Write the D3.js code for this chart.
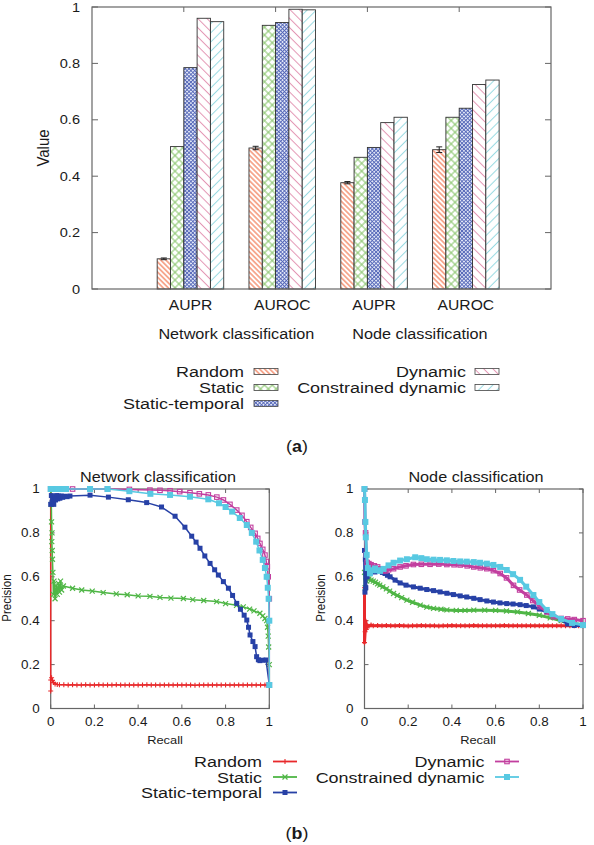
<!DOCTYPE html>
<html><head><meta charset="utf-8">
<script src="https://cdn.jsdelivr.net/npm/d3@7"></script>
<style>
body{margin:0;background:#fff}
svg{display:block}
text{font-family:"Liberation Sans",Arial,Helvetica,sans-serif;fill:#1a1a1a}
</style>
</head><body>
<svg id="c" width="594" height="845"></svg>
<script>
// ---------------- DATA ----------------
const barCategories = ["AUPR", "AUROC", "AUPR", "AUROC"];
const groupLabels = ["Network classification", "Node classification"];
const methods = ["Random", "Static", "Static-temporal", "Dynamic", "Constrained dynamic"];
const randomVals = [0.107, 0.500, 0.377, 0.494];
const randomErr = [0.003, 0.006, 0.004, 0.010];
const staticVals = [0.505, 0.935, 0.467, 0.609];
const staticTemporalVals = [0.785, 0.945, 0.502, 0.641];
const dynamicVals = [0.960, 0.992, 0.590, 0.725];
const constrainedVals = [0.948, 0.990, 0.609, 0.741];
const valueTicks = [0, 0.2, 0.4, 0.6, 0.8, 1];
const prTicks = [0, 0.2, 0.4, 0.6, 0.8, 1];
const prTitles = ["Network classification", "Node classification"];
const panelTags = ["a", "b"];

// PR curves: [recall, precision]
const netRandom = [[0,1],[0,0.08],[0,0.13],[0.004,0.14],[0.008,0.128],[0.013,0.118],[0.02,0.112],[0.03,0.109],[0.04,0.108],
 [0.06,0.108],[0.08,0.107],[0.10,0.108],[0.12,0.107],[0.14,0.107],[0.16,0.108],[0.18,0.107],[0.20,0.107],[0.22,0.108],[0.24,0.107],
 [0.26,0.107],[0.28,0.107],[0.30,0.108],[0.32,0.107],[0.34,0.107],[0.36,0.107],[0.38,0.107],[0.40,0.107],[0.42,0.107],[0.44,0.108],
 [0.46,0.107],[0.48,0.107],[0.50,0.107],[0.52,0.107],[0.54,0.107],[0.56,0.107],[0.58,0.107],[0.60,0.107],[0.62,0.107],[0.64,0.107],
 [0.66,0.106],[0.68,0.107],[0.70,0.107],[0.72,0.107],[0.74,0.107],[0.76,0.107],[0.78,0.107],[0.80,0.107],[0.82,0.107],[0.84,0.107],
 [0.86,0.107],[0.88,0.107],[0.90,0.107],[0.92,0.107],[0.94,0.107],[0.96,0.107],[0.98,0.107],[1,0.107]];
const netStatic = [[0,1],[0.003,0.93],[0.004,0.85],[0.006,0.8],[0.005,0.76],[0.007,0.72],[0.008,0.68],[0.01,0.62],[0.012,0.52],
 [0.015,0.58],[0.02,0.5],[0.025,0.56],[0.03,0.52],[0.035,0.57],[0.04,0.53],[0.045,0.58],[0.05,0.54],[0.058,0.558],[0.1,0.548],
 [0.142,0.54],[0.19,0.535],[0.24,0.528],[0.3,0.522],[0.35,0.518],[0.4,0.513],[0.454,0.511],[0.5,0.506],[0.55,0.503],[0.607,0.501],
 [0.65,0.496],[0.7,0.492],[0.759,0.487],[0.8,0.478],[0.85,0.47],[0.881,0.463],[0.91,0.453],[0.93,0.445],[0.957,0.434],[0.97,0.422],
 [0.98,0.41],[0.988,0.4],[0.992,0.37],[0.995,0.33],[0.997,0.28],[1,0.2],[1,0.107]];
const netStaticTemporal = [[0,0.93],[0.003,0.97],[0.006,0.94],[0.01,0.96],[0.014,0.93],[0.018,0.965],[0.022,0.95],[0.027,0.97],
 [0.032,0.955],[0.037,0.968],[0.042,0.958],[0.048,0.968],[0.055,0.962],[0.065,0.967],[0.075,0.965],[0.088,0.968],[0.18,0.972],
 [0.264,0.963],[0.355,0.951],[0.439,0.938],[0.507,0.918],[0.569,0.876],[0.614,0.826],[0.645,0.785],[0.665,0.758],[0.683,0.73],
 [0.705,0.695],[0.729,0.661],[0.75,0.632],[0.767,0.608],[0.79,0.578],[0.813,0.548],[0.832,0.515],[0.851,0.479],[0.868,0.452],
 [0.885,0.425],[0.897,0.403],[0.905,0.37],[0.912,0.335],[0.925,0.305],[0.935,0.282],[0.942,0.236],[0.95,0.222],[0.957,0.218],
 [0.97,0.22],[0.985,0.221],[1,0.107]];
const netDynamic = [[0,1],[0.05,1],[0.1,1],[0.18,1],[0.26,1],[0.36,0.998],[0.454,0.995],[0.5,0.994],[0.546,0.992],[0.59,0.988],
 [0.637,0.983],[0.68,0.978],[0.721,0.973],[0.76,0.963],[0.79,0.95],[0.82,0.93],[0.851,0.904],[0.875,0.88],[0.897,0.851],
 [0.915,0.825],[0.935,0.798],[0.947,0.775],[0.957,0.752],[0.97,0.725],[0.98,0.699],[0.986,0.67],[0.991,0.646],[0.995,0.6],
 [1,0.5],[1,0.107]];
const netConstrained = [[0,1],[0.005,1],[0.01,1],[0.015,1],[0.02,1],[0.025,1],[0.03,1],[0.035,1],[0.04,1],[0.045,1],[0.05,1],
 [0.055,1],[0.06,1],[0.065,1],[0.07,1],[0.18,1],[0.26,1],[0.36,0.99],[0.456,0.978],[0.546,0.973],[0.637,0.965],[0.721,0.953],
 [0.77,0.935],[0.8,0.918],[0.83,0.897],[0.865,0.868],[0.897,0.836],[0.92,0.8],[0.94,0.76],[0.955,0.72],[0.97,0.677],[0.98,0.64],
 [0.988,0.6],[0.993,0.55],[0.997,0.5],[1,0.4],[1,0.107]];

const nodeRandom = [[0,0.55],[0,0.3],[0.003,0.35],[0.005,0.4],[0.008,0.36],[0.012,0.38],[0.02,0.375],[0.03,0.38],[0.04,0.377],
 [0.06,0.378],[0.08,0.377],[0.10,0.378],[0.12,0.377],[0.14,0.377],[0.16,0.378],[0.18,0.377],[0.20,0.376],[0.22,0.377],[0.24,0.377],
 [0.26,0.378],[0.28,0.377],[0.30,0.377],[0.32,0.377],[0.34,0.376],[0.36,0.377],[0.38,0.377],[0.40,0.378],[0.42,0.377],[0.44,0.377],
 [0.46,0.377],[0.48,0.377],[0.50,0.378],[0.52,0.377],[0.54,0.377],[0.56,0.377],[0.58,0.377],[0.60,0.377],[0.62,0.377],[0.64,0.378],
 [0.66,0.377],[0.68,0.377],[0.70,0.377],[0.72,0.377],[0.74,0.377],[0.76,0.377],[0.78,0.377],[0.80,0.377],[0.82,0.377],[0.84,0.377],
 [0.86,0.377],[0.88,0.377],[0.90,0.377],[0.92,0.377],[0.94,0.377],[0.96,0.377],[0.98,0.377],[1,0.377]];
const nodeStatic = [[0,0.62],[0.003,0.55],[0.006,0.6],[0.01,0.58],[0.015,0.6],[0.02,0.59],[0.03,0.585],[0.04,0.58],[0.05,0.575],
 [0.06,0.568],[0.07,0.562],[0.084,0.554],[0.1,0.545],[0.115,0.535],[0.133,0.524],[0.15,0.515],[0.17,0.505],[0.194,0.494],
 [0.22,0.484],[0.255,0.471],[0.285,0.462],[0.316,0.456],[0.35,0.452],[0.377,0.449],[0.42,0.447],[0.46,0.447],[0.5,0.448],
 [0.55,0.448],[0.6,0.447],[0.65,0.444],[0.7,0.44],[0.75,0.433],[0.8,0.425],[0.85,0.413],[0.9,0.4],[0.95,0.39],[1,0.38]];
const nodeStaticTemporal = [[0,0.72],[0.002,0.53],[0.004,0.68],[0.006,0.55],[0.008,0.62],[0.012,0.6],[0.018,0.64],[0.025,0.645],
 [0.035,0.63],[0.048,0.622],[0.06,0.635],[0.071,0.637],[0.082,0.62],[0.094,0.615],[0.105,0.607],[0.117,0.6],[0.14,0.585],
 [0.163,0.572],[0.19,0.562],[0.224,0.554],[0.255,0.548],[0.285,0.542],[0.316,0.537],[0.346,0.531],[0.377,0.525],[0.407,0.519],
 [0.438,0.513],[0.468,0.508],[0.5,0.502],[0.529,0.496],[0.56,0.49],[0.59,0.485],[0.62,0.481],[0.651,0.478],[0.68,0.476],
 [0.712,0.473],[0.74,0.469],[0.773,0.463],[0.8,0.453],[0.834,0.44],[0.86,0.428],[0.9,0.405],[0.93,0.385],[0.96,0.378],[1,0.378]];
const nodeDynamic = [[0,1],[0.002,0.85],[0.005,0.8],[0.008,0.7],[0.012,0.665],[0.02,0.66],[0.03,0.655],[0.045,0.65],[0.06,0.645],
 [0.075,0.635],[0.087,0.628],[0.097,0.627],[0.11,0.632],[0.133,0.637],[0.163,0.645],[0.19,0.65],[0.224,0.656],[0.26,0.657],
 [0.3,0.657],[0.34,0.658],[0.377,0.656],[0.41,0.655],[0.438,0.654],[0.47,0.65],[0.5,0.645],[0.53,0.641],[0.56,0.637],[0.59,0.628],
 [0.621,0.615],[0.65,0.595],[0.682,0.561],[0.71,0.54],[0.743,0.517],[0.77,0.492],[0.804,0.464],[0.835,0.44],[0.865,0.418],
 [0.9,0.41],[0.93,0.408],[0.96,0.405],[1,0.4]];
const nodeConstrained = [[0,1],[0.002,0.95],[0.004,0.85],[0.006,0.78],[0.01,0.7],[0.015,0.64],[0.025,0.616],[0.035,0.63],
 [0.048,0.638],[0.06,0.63],[0.071,0.627],[0.087,0.636],[0.11,0.652],[0.133,0.664],[0.163,0.674],[0.194,0.68],[0.232,0.689],
 [0.26,0.685],[0.285,0.68],[0.316,0.678],[0.346,0.677],[0.377,0.675],[0.407,0.672],[0.438,0.67],[0.468,0.669],[0.5,0.667],
 [0.529,0.664],[0.56,0.66],[0.59,0.654],[0.621,0.645],[0.651,0.631],[0.68,0.612],[0.712,0.586],[0.74,0.555],[0.773,0.517],
 [0.8,0.485],[0.834,0.449],[0.86,0.43],[0.9,0.408],[0.95,0.39],[1,0.38]];

// ---------------- DRAW ----------------
const svg = d3.select("#c");
const SX = 1.12; // horizontal stretch of the original figure's lettering
function txt(g, x, y, s, size, anchor, opts = {}) {
  const sx = opts.sx || SX;
  const t = g.append("text")
    .attr("transform", `translate(${x},${y})` + (opts.rot ? ` scale(1.1,1) rotate(-90)` : ` scale(${sx},1)`))
    .attr("text-anchor", anchor || "start")
    .attr("font-size", size);
  if (s !== null) t.text(s);
  return t;
}
function tag(g, x, y, letter) {
  const t = txt(g, x, y, null, 17, "middle", { sx: 1.05 });
  t.append("tspan").text("(");
  t.append("tspan").attr("font-weight", "bold").text(letter);
  t.append("tspan").text(")");
}

const defs = svg.append("defs");
function hatch(id, color, sp, angle, w, cross, bg) {
  const p = defs.append("pattern").attr("id", id).attr("patternUnits", "userSpaceOnUse")
    .attr("width", sp).attr("height", sp).attr("patternTransform", `rotate(${angle})`);
  p.append("rect").attr("width", sp).attr("height", sp).attr("fill", bg || "#fff");
  p.append("line").attr("x1", sp / 2).attr("y1", -1).attr("x2", sp / 2).attr("y2", sp + 1).attr("stroke", color).attr("stroke-width", w);
  if (cross) p.append("line").attr("x1", -1).attr("y1", sp / 2).attr("x2", sp + 1).attr("y2", sp / 2).attr("stroke", color).attr("stroke-width", w);
}
hatch("pRandom", "#f27b55", 3.6, -45, 1.2, false);
hatch("pStatic", "#86c468", 5.5, 45, 1, true);
hatch("pST", "#5466b8", 2.7, 45, 0.9, true, "#e2e6f6");
hatch("pDyn", "#e396b4", 6.5, -45, 1, false);
hatch("pCon", "#98dae2", 6.5, 45, 1, false);
const fills = ["url(#pRandom)", "url(#pStatic)", "url(#pST)", "url(#pDyn)", "url(#pCon)"];
const series = [randomVals, staticVals, staticTemporalVals, dynamicVals, constrainedVals];

// ---- (a) bar chart ----
const A = { l: 92, r: 551, t: 7, b: 289 };
const xa = d3.scaleLinear().domain([0, 5]).range([A.l, A.r]);
const ya = d3.scaleLinear().domain([0, 1]).range([A.b, A.t]);
const ga = svg.append("g");
const bw = xa(0.145) - xa(0);

series.forEach((vals, i) => {
  ga.selectAll(null).data(vals).enter().append("rect")
    .attr("x", (d, g) => xa(g + 1) + (i - 2) * bw)
    .attr("y", d => ya(d))
    .attr("width", bw)
    .attr("height", d => ya(0) - ya(d))
    .attr("fill", fills[i])
    .attr("stroke", "#333").attr("stroke-width", 0.9);
});
// error bars on Random
randomVals.forEach((v, g) => {
  const cx = xa(g + 1) - 2 * bw + bw / 2;
  const e = randomErr[g];
  ga.append("line").attr("x1", cx).attr("x2", cx).attr("y1", ya(v - e)).attr("y2", ya(v + e)).attr("stroke", "#222").attr("stroke-width", 1);
  [v - e, v + e].forEach(u => ga.append("line").attr("x1", cx - 3).attr("x2", cx + 3).attr("y1", ya(u)).attr("y2", ya(u)).attr("stroke", "#222").attr("stroke-width", 1));
});
// frame & ticks
ga.append("rect").attr("x", A.l).attr("y", A.t).attr("width", A.r - A.l).attr("height", A.b - A.t)
  .attr("fill", "none").attr("stroke", "#666").attr("stroke-width", 1.2);
valueTicks.forEach(v => {
  ga.append("line").attr("x1", A.l).attr("x2", A.l + 6).attr("y1", ya(v)).attr("y2", ya(v)).attr("stroke", "#666");
  ga.append("line").attr("x1", A.r - 6).attr("x2", A.r).attr("y1", ya(v)).attr("y2", ya(v)).attr("stroke", "#666");
  txt(ga, 80, ya(v) + 4.6, d3.format("~g")(v), 13, "end");
});
barCategories.forEach((c, g) => {
  ga.append("line").attr("x1", xa(g + 1)).attr("x2", xa(g + 1)).attr("y1", A.t).attr("y2", A.t + 5).attr("stroke", "#666");
  txt(ga, xa(g + 1) + bw / 2, 310, c, 14, "middle");
});
groupLabels.forEach((lab, k) => {
  const cx = (xa(2 * k + 1) + xa(2 * k + 2)) / 2 + bw / 2;
  txt(ga, cx, 339, lab, 14.5, "middle");
});
txt(ga, 49, 148, "Value", 15, "middle", { rot: true });

// legend (a)
const legA = [[244, 377, 254], [244, 393, 254], [244, 409, 254], [466, 377, 475], [466, 393, 475]];
methods.forEach((m, i) => {
  const [tx, ty, sx] = legA[i];
  txt(ga, tx, ty, m, 14.5, "end", { sx: 1.24 });
  ga.append("rect").attr("x", sx).attr("y", ty - 8.5).attr("width", 24).attr("height", 6)
    .attr("fill", fills[i]).attr("stroke", "#444").attr("stroke-width", 0.8);
});
tag(ga, 297, 452, panelTags[0]);

// ---- (b) PR curves ----
const colors = ["#e8292b", "#4fb646", "#2741a6", "#c23f9f", "#58c9e2"];
const markers = ["plus", "cross", "fsq", "osq", "fsq"];
const msize = [5, 5, 5, 5.5, 6];
function marker(g, type, x, y, c, s) {
  const h = s / 2;
  if (type === "plus") {
    g.append("path").attr("d", `M${x - h},${y}H${x + h}M${x},${y - h}V${y + h}`).attr("stroke", c).attr("stroke-width", 1.1);
  } else if (type === "cross") {
    g.append("path").attr("d", `M${x - h},${y - h}L${x + h},${y + h}M${x - h},${y + h}L${x + h},${y - h}`).attr("stroke", c).attr("stroke-width", 1.2);
  } else if (type === "fsq") {
    g.append("rect").attr("x", x - h).attr("y", y - h).attr("width", s).attr("height", s).attr("fill", c);
  } else {
    g.append("rect").attr("x", x - h + 0.5).attr("y", y - h + 0.5).attr("width", s - 1).attr("height", s - 1).attr("fill", "none").attr("stroke", c).attr("stroke-width", 1.1);
  }
}
const panels = [
  { l: 50.7, r: 269.3, data: [netRandom, netStatic, netStaticTemporal, netDynamic, netConstrained], lw: 1.5, ylab: 7, title: 158, recall: 165 },
  { l: 364.5, r: 583, data: [nodeRandom, nodeStatic, nodeStaticTemporal, nodeDynamic, nodeConstrained], lw: 3, ylab: 321, title: 476, recall: 478 }
];
const PT = 489, PB = 708.5;
panels.forEach((P, k) => {
  const g = svg.append("g");
  const x = d3.scaleLinear().domain([0, 1]).range([P.l, P.r]);
  const y = d3.scaleLinear().domain([0, 1]).range([PB, PT]);
  g.append("rect").attr("x", P.l).attr("y", PT).attr("width", P.r - P.l).attr("height", PB - PT)
    .attr("fill", "none").attr("stroke", "#666").attr("stroke-width", 1.2);
  prTicks.forEach(v => {
    g.append("line").attr("x1", x(v)).attr("x2", x(v)).attr("y1", PB).attr("y2", PB - 4).attr("stroke", "#666");
    g.append("line").attr("x1", x(v)).attr("x2", x(v)).attr("y1", PT).attr("y2", PT + 4).attr("stroke", "#666");
    g.append("line").attr("x1", P.l).attr("x2", P.l + 4).attr("y1", y(v)).attr("y2", y(v)).attr("stroke", "#666");
    g.append("line").attr("x1", P.r - 4).attr("x2", P.r).attr("y1", y(v)).attr("y2", y(v)).attr("stroke", "#666");
    txt(g, x(v), 725.5, d3.format("~g")(v), 12, "middle");
    txt(g, P.l - 11, y(v) + 4.2, d3.format("~g")(v), 12, "end");
  });
  txt(g, P.title, 482, prTitles[k], 14.5, "middle");
  txt(g, P.recall, 744, "Recall", 11.5, "middle");
  txt(g, P.ylab + 4, 598, "Precision", 11.5, "middle", { rot: true });
  const line = d3.line().x(d => x(d[0])).y(d => y(d[1]));
  P.data.forEach((pts, i) => {
    g.append("path").attr("d", line(pts)).attr("fill", "none").attr("stroke", colors[i])
      .attr("stroke-width", P.lw).attr("stroke-linejoin", "round");
    pts.forEach(p => marker(g, markers[i], x(p[0]), y(p[1]), colors[i], msize[i]));
  });
});

// legend (b)
const gb = svg.append("g");
const legB = [[262, 767, 273], [262, 782.5, 273], [262, 798, 273], [484.5, 767, 495], [484.5, 782.5, 495]];
methods.forEach((m, i) => {
  const [tx, ty, sx] = legB[i];
  txt(gb, tx, ty, m, 14.5, "end", { sx: 1.24 });
  gb.append("line").attr("x1", sx).attr("x2", sx + 24).attr("y1", ty - 5.5).attr("y2", ty - 5.5).attr("stroke", colors[i]).attr("stroke-width", 1.8);
  marker(gb, markers[i], sx + 12, ty - 5.5, colors[i], msize[i]);
});
tag(gb, 297, 839, panelTags[1]);
</script>
</body></html>
